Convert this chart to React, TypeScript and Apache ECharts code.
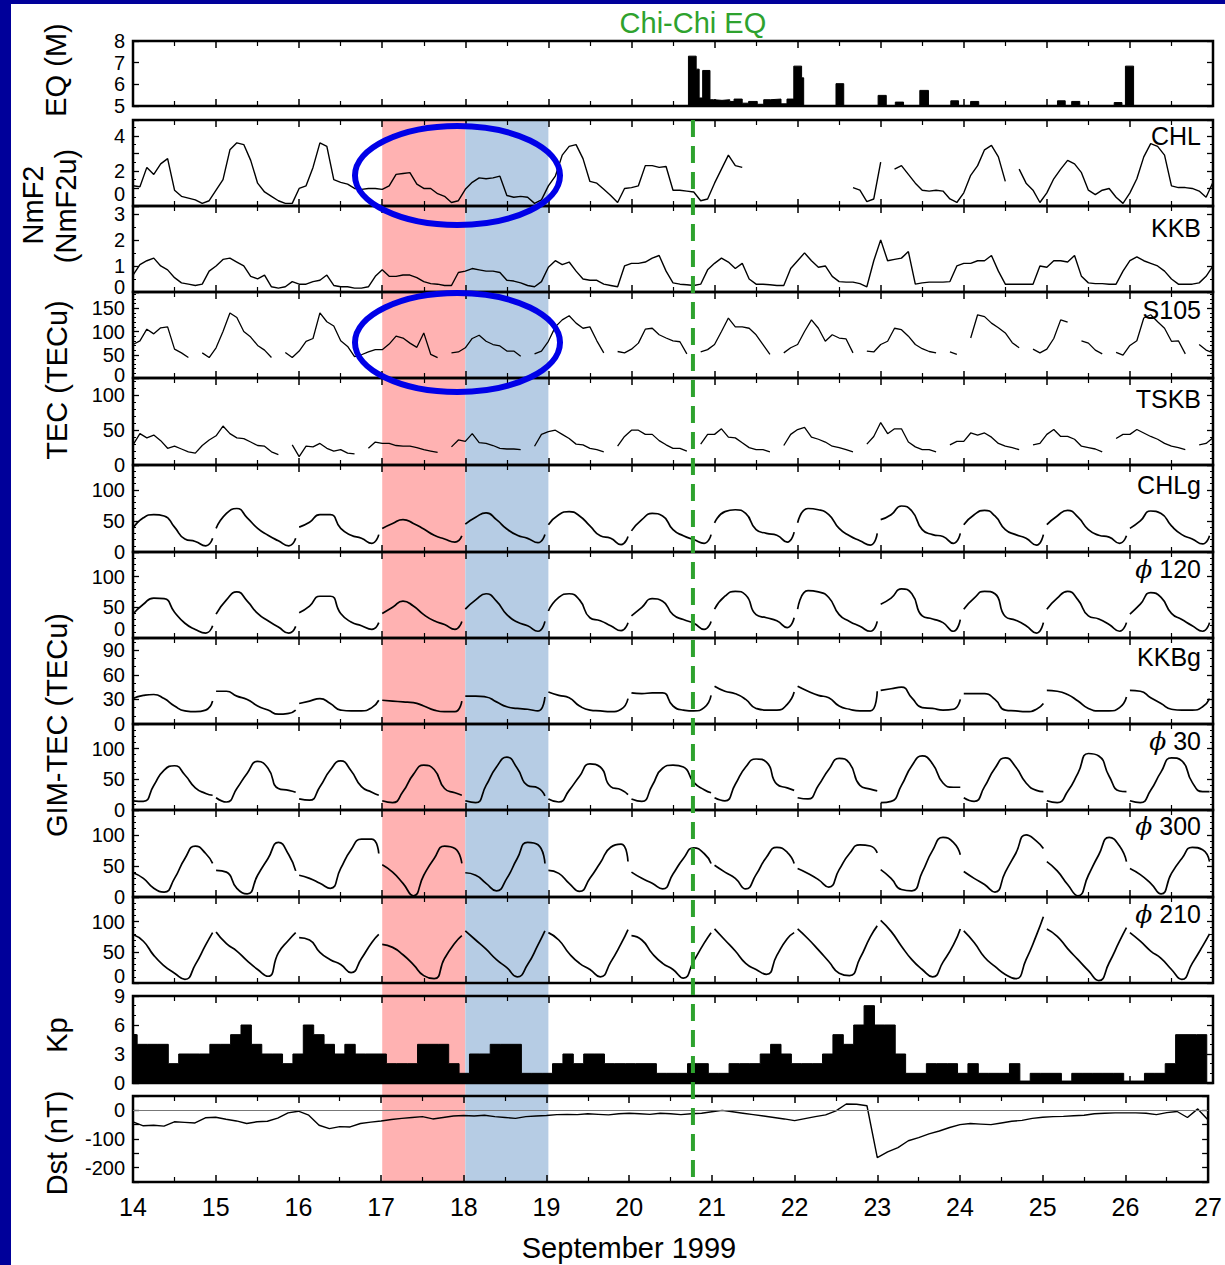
import React, { useEffect, useRef } from "react";
import * as echarts from "echarts";

const FONT = "'Liberation Sans', Arial, Helvetica, sans-serif";

// ---------------- DATA ----------------
const DAY_TICKS = [14, 15, 16, 17, 18, 19, 20, 21, 22, 23, 24, 25, 26, 27];
const GIM_HOURS = [0, 3, 6, 9, 12, 15, 18, 21, 23];

// Earthquakes: bar start (day), bar end (day), magnitude
const EQ_START = [20.686, 20.779, 20.815, 20.857, 20.945, 20.986, 21.09, 21.183, 21.235, 21.333, 21.41, 21.514, 21.592, 21.675, 21.8, 21.872, 21.954, 22.048, 22.462, 22.969, 23.176, 23.471, 23.844, 24.082, 25.128, 25.299, 25.811, 25.946];
const EQ_END = [20.779, 20.815, 20.857, 20.945, 20.986, 21.09, 21.183, 21.235, 21.333, 21.41, 21.514, 21.592, 21.675, 21.8, 21.872, 21.954, 22.048, 22.073, 22.555, 23.067, 23.275, 23.575, 23.937, 24.18, 25.221, 25.397, 25.904, 26.044];
const EQ_MAG = [7.3, 6.7, 5.37, 6.64, 5.29, 5.26, 5.29, 5.21, 5.32, 5.13, 5.21, 5.08, 5.29, 5.32, 5.1, 5.32, 6.84, 6.3, 6.03, 5.49, 5.18, 5.72, 5.24, 5.21, 5.24, 5.21, 5.16, 6.84];
const EQ_TIME = 20.74;

// NmF2 at CHL, 2-hourly (12 per day, 14..26) + value at 27
const CHL_NMF2 = [
  [1.15, 1.1, 2.2, 1.8, 2.4, 2.7, 0.9, 0.55, 0.45, 0.35, 0.15, 0.3],
  [0.9, 1.5, 3.2, 3.6, 3.5, 2.6, 1.3, 0.8, 0.55, 0.3, 0.15, 0.15],
  [1.0, 1.15, 2.2, 3.6, 3.4, 1.5, 1.35, 1.25, 1.0, 0.95, 1.0, 1.0],
  [0.95, 1.15, 1.8, 1.85, 1.9, 1.25, 1.0, 1.0, 0.7, 0.55, 0.2, 0.3],
  [0.95, 1.35, 1.6, 1.55, 1.6, 1.7, 0.6, 0.5, 0.55, 0.5, 0.15, 0.35],
  [1.15, 1.7, 2.9, 3.4, 3.5, 2.7, 1.4, 1.3, 0.95, 0.6, 0.2, 1.0],
  [1.05, 1.15, 2.3, 2.3, 2.2, 2.25, 0.9, 0.9, 0.85, 0.8, 0.3, 0.4],
  [1.3, 2.1, 2.9, 2.3, 2.2, null, null, null, null, null, null, null],
  [null, null, null, null, null, null, null, null, 1.05, 0.9, 0.25, 0.4],
  [2.5, null, 2.1, 2.3, 1.8, 1.3, 0.9, 0.85, 0.9, 0.85, 0.4, 0.2],
  [0.75, 1.75, 2.3, 3.2, 3.45, 2.8, 1.4, null, 2.1, 1.3, 0.9, 0.2],
  [0.75, 1.55, 2.1, 2.6, 2.4, 1.9, 0.9, 0.65, 0.9, 1.0, 0.5, 0.15],
  [0.75, 1.55, 2.8, 3.55, 3.4, 2.9, 1.15, 1.05, 1.05, 1.0, 0.85, 0.5],
];
const CHL_NMF2_END = 1.35;

const KKB_NMF2 = [
  [0.65, 1.05, 1.2, 1.3, 1.0, 0.85, 0.55, 0.35, 0.3, 0.25, 0.3, 0.8],
  [1.0, 1.25, 1.3, 1.15, 1.0, 0.6, 0.5, 0.65, 0.2, 0.15, 0.2, 0.4],
  [0.3, 0.3, 0.4, 0.45, 0.65, 0.25, 0.2, 0.2, 0.15, 0.15, 0.2, 0.6],
  [0.85, 0.6, 0.6, 0.65, 0.65, 0.55, 0.4, 0.32, 0.3, 0.25, 0.25, 0.75],
  [0.8, 0.9, 0.85, 0.8, 0.8, 0.75, 0.45, 0.42, 0.35, 0.25, 0.2, 0.4],
  [0.95, 1.2, 1.05, 1.15, 0.8, 0.5, 0.45, 0.45, 0.3, 0.25, 0.2, 1.0],
  [1.1, 1.1, 1.15, 1.3, 1.4, 0.8, 0.35, 0.3, 0.28, 0.25, 0.3, 0.85],
  [1.1, 1.3, 1.15, 0.9, 1.1, 0.5, 0.3, 0.3, 0.28, 0.25, 0.25, 0.9],
  [1.2, 1.5, 1.2, 0.95, 1.0, 0.6, 0.4, 0.38, 0.38, 0.32, 0.2, 1.2],
  [2.0, 1.2, 1.25, 1.3, 1.55, 0.3, 0.35, 0.38, 0.38, 0.38, 0.4, 1.0],
  [1.1, 1.1, 1.2, 1.2, 1.4, 0.8, 0.3, 0.3, 0.3, 0.3, 0.3, 1.0],
  [0.95, 1.2, 1.2, 1.15, 1.4, 0.6, 0.35, 0.32, 0.32, 0.3, 0.3, 0.8],
  [1.2, 1.35, 1.2, 1.1, 1.0, 0.8, 0.5, 0.3, 0.3, 0.3, 0.35, 0.6],
];
const KKB_NMF2_END = 1.0;

// GPS TEC, 2-hourly
const S105_TEC = [
  [72, 80, 105, 95, 108, 110, 62, 54, 44, null, 54, 44],
  [65, 100, 140, 130, 100, 88, 70, 60, 44, null, 55, 44],
  [58, 79, 85, 140, 121, 112, 80, 68, 46, 50, 56, 61],
  [61, 73, 90, 86, 75, 66, 97, 51, 44, null, 54, 56],
  [65, 85, 92, 79, 72, 69, 58, 58, 47, null, 52, 58],
  [79, 110, 125, 134, 118, 107, 110, 80, 54, null, 57, 54],
  [62, 75, 105, 107, 93, 86, 80, 78, 52, null, 56, 61],
  [72, 100, 129, 110, 110, 107, 93, 72, 51, null, 54, 65],
  [72, 100, 125, 107, 79, 93, 86, 84, 54, null, 58, 56],
  [72, 79, 107, 104, 90, 72, 63, 57, 54, null, 56, 51],
  [null, 86, 136, 132, 118, 108, 97, 76, 65, null, 62, 54],
  [62, 85, 125, 120, null, 80, 75, 60, 52, null, 55, 49],
  [70, 80, 129, 136, 121, 107, 79, 80, 52, null, 72, 60],
];
const S105_TEC_END = 54;

const TSKB_TEC = [
  [29, 45, 39, 43, 35, 24, 27, 23, 19, 17, 28, 36],
  [42, 56, 45, 39, 38, 33, 28, 27, 19, 15, null, 29],
  [12, 27, 26, 31, 24, 20, 22, 17, 16, null, 24, 33],
  [31, 31, 28, 27, 27, 25, 22, 20, 18, null, 26, 36],
  [34, 45, 32, 31, 28, 24, 23, 23, 22, null, 27, 44],
  [48, 50, 44, 38, 30, 29, 24, 22, 19, null, 27, 41],
  [50, 50, 44, 44, 35, 29, 24, 24, 20, null, 30, 44],
  [44, 52, 40, 39, 32, 25, 22, 22, 19, null, 28, 44],
  [51, 54, 40, 37, 33, 27, 25, 22, 19, null, 30, 41],
  [61, 45, 52, 52, 33, 26, 22, 22, 19, null, 29, 34],
  [34, 46, 43, 46, 40, 31, 27, 25, 22, null, 29, 31],
  [44, 51, 41, 41, 37, 27, 25, 23, 19, null, 38, 44],
  [44, 51, 46, 41, 37, 31, 27, 25, 22, null, 29, 31],
];
const TSKB_TEC_END = 39;

// GIM-TEC, per day at GIM_HOURS
const CHLG_TEC = [
  [38, 55, 60, 58, 40, 21, 17, 10, 22],
  [38, 62, 70, 55, 38, 27, 18, 10, 22],
  [40, 48, 60, 60, 38, 27, 22, 14, 28],
  [38, 46, 52, 46, 37, 27, 21, 16, 26],
  [45, 56, 63, 52, 37, 27, 22, 15, 28],
  [44, 60, 65, 58, 42, 26, 22, 12, 25],
  [34, 52, 62, 58, 36, 26, 20, 14, 28],
  [47, 65, 68, 62, 36, 30, 27, 16, 32],
  [47, 70, 68, 60, 38, 26, 18, 11, 30],
  [52, 60, 74, 66, 36, 28, 25, 14, 30],
  [44, 60, 67, 58, 36, 28, 22, 11, 28],
  [44, 58, 67, 56, 36, 27, 24, 14, 26],
  [38, 50, 66, 62, 42, 28, 21, 13, 26],
];
const P120_TEC = [
  [39, 55, 65, 64, 42, 24, 14, 8, 20],
  [39, 62, 75, 60, 40, 28, 18, 8, 19],
  [41, 52, 68, 68, 40, 26, 20, 14, 25],
  [40, 50, 60, 52, 38, 28, 22, 14, 27],
  [47, 62, 72, 60, 38, 26, 20, 11, 27],
  [44, 66, 72, 62, 33, 28, 20, 12, 25],
  [36, 50, 64, 60, 38, 30, 24, 14, 27],
  [47, 68, 76, 70, 38, 33, 28, 17, 33],
  [47, 77, 75, 66, 38, 27, 19, 11, 27],
  [55, 65, 80, 72, 36, 31, 25, 11, 30],
  [47, 65, 76, 72, 35, 29, 20, 8, 25],
  [47, 65, 76, 62, 36, 31, 22, 11, 25],
  [39, 55, 74, 66, 40, 30, 20, 11, 25],
];
const KKBG_TEC = [
  [31, 35, 36, 31, 22, 16, 15, 17, 28],
  [40, 40, 34, 30, 22, 17, 12, 13, 17],
  [25, 28, 31, 25, 17, 16, 16, 20, 29],
  [29, 28, 27, 26, 22, 17, 15, 15, 28],
  [34, 34, 33, 27, 21, 19, 18, 16, 33],
  [39, 35, 32, 22, 17, 16, 15, 18, 31],
  [38, 37, 38, 38, 22, 17, 16, 20, 35],
  [46, 40, 37, 30, 19, 17, 17, 24, 39],
  [46, 40, 35, 32, 22, 18, 16, 16, 40],
  [41, 43, 45, 32, 20, 19, 17, 18, 30],
  [37, 37, 37, 30, 17, 16, 15, 18, 25],
  [41, 40, 36, 28, 19, 16, 16, 20, 33],
  [41, 40, 32, 25, 18, 17, 17, 21, 31],
];
const P30_TEC = [
  [15, 14, 40, 65, 72, 57, 36, 27, 24],
  [20, 13, 35, 60, 79, 68, 35, 32, 29],
  [18, 16, 38, 65, 80, 64, 38, 29, 24],
  [15, 12, 30, 58, 73, 66, 35, 28, 24],
  [15, 12, 40, 70, 86, 68, 40, 36, 23],
  [18, 13, 32, 55, 75, 70, 38, 33, 25],
  [18, 14, 40, 68, 73, 70, 45, 33, 28],
  [20, 15, 42, 70, 83, 78, 42, 36, 32],
  [20, 18, 40, 66, 84, 76, 40, 34, 31],
  [12, 14, 40, 72, 88, 75, 44, 37, 37],
  [20, 14, 38, 68, 85, 70, 44, 32, 30],
  [15, 12, 30, 60, 92, 88, 55, 31, 30],
  [15, 12, 32, 62, 85, 80, 45, 30, 30],
];
const P300_TEC = [
  [39, 30, 14, 8, 30, 62, 82, 70, 54],
  [43, 40, 14, 5, 35, 62, 88, 68, 42],
  [35, 30, 22, 14, 46, 76, 93, 93, 70],
  [52, 40, 22, 2, 35, 62, 82, 78, 54],
  [39, 35, 22, 10, 30, 62, 88, 84, 54],
  [43, 38, 22, 9, 30, 55, 80, 85, 57],
  [40, 30, 22, 13, 37, 62, 79, 70, 54],
  [51, 40, 30, 13, 36, 64, 80, 72, 54],
  [46, 38, 28, 16, 44, 70, 84, 82, 71],
  [44, 30, 12, 10, 40, 75, 96, 88, 68],
  [41, 30, 20, 8, 40, 70, 100, 90, 78],
  [57, 42, 20, 2, 35, 68, 96, 82, 57],
  [46, 36, 22, 5, 38, 62, 80, 76, 57],
];
const P210_TEC = [
  [79, 68, 45, 28, 16, 6, 30, 62, 82],
  [83, 64, 52, 36, 22, 11, 49, 70, 82],
  [74, 70, 50, 38, 30, 17, 40, 66, 79],
  [63, 58, 46, 30, 12, 7, 40, 65, 77],
  [85, 70, 55, 38, 25, 10, 30, 62, 85],
  [82, 70, 48, 32, 22, 10, 34, 64, 87],
  [77, 70, 48, 32, 22, 8, 36, 65, 82],
  [88, 70, 52, 32, 22, 14, 45, 72, 82],
  [88, 72, 54, 35, 16, 12, 40, 75, 93],
  [102, 84, 60, 38, 22, 10, 34, 62, 88],
  [85, 66, 42, 27, 14, 7, 38, 78, 108],
  [88, 76, 56, 38, 20, 4, 33, 68, 90],
  [82, 68, 52, 40, 22, 6, 32, 60, 80],
];

// Kp, 3-hourly bars (8 per day), plus last bar of Sep 13
const KP_PREV = 5;
const KP_SHIFT = 0.05;
const KP = [
  [4, 4, 4, 2, 3, 3, 3, 4],
  [4, 5, 6, 4, 3, 3, 2, 3],
  [6, 5, 4, 3, 4, 3, 3, 3],
  [2, 2, 2, 4, 4, 4, 2, 1],
  [3, 3, 4, 4, 4, 1, 1, 1],
  [2, 3, 2, 3, 3, 2, 2, 2],
  [2, 2, 1, 1, 1, 2, 2, 1],
  [1, 2, 2, 2, 3, 4, 3, 2],
  [2, 2, 3, 5, 4, 6, 8, 6],
  [6, 3, 1, 1, 2, 2, 2, 1],
  [2, 1, 1, 1, 2, 0.2, 1, 1],
  [1, 0.2, 1, 1, 1, 1, 1, 0.2],
  [0.2, 1, 1, 2, 5, 5, 5, 0],
];

// Dst, 3-hourly + value at 27
const DST = [
  [-40, -54, -52, -55, -40, -42, -44, -26],
  [-24, -31, -37, -46, -40, -38, -27, -9],
  [-3, -17, -52, -64, -57, -58, -46, -41],
  [-37, -32, -28, -25, -22, -30, -25, -20],
  [-18, -20, -17, -22, -25, -28, -22, -20],
  [-18, -15, -14, -15, -12, -14, -16, -12],
  [-10, -12, -14, -10, -12, -15, -12, -10],
  [-5, 0, -5, -10, -15, -20, -25, -30],
  [-36, -29, -22, -16, -2, 22, 21, 16],
  [-165, -145, -130, -106, -95, -82, -72, -60],
  [-50, -46, -48, -50, -44, -38, -35, -28],
  [-24, -22, -21, -19, -17, -12, -10, -9],
  [-9, -9, -10, -15, -8, -4, -25, 5],
];
const DST_END = -34;

// ---------------- LAYOUT / STYLE ----------------
const PLOT_LEFT = 133;
const PLOT_WIDTH = 1080;
const Y_LABEL_FONT = 20;
const Y_LABEL_MARGIN = 8;
const PANELS = [
  { id: "eq", top: 41, bottom: 106, label: "", phi: false },
  { id: "chl", top: 120, bottom: 206, label: "CHL", phi: false },
  { id: "kkb", top: 206, bottom: 292, label: "KKB", phi: false },
  { id: "s105", top: 292, bottom: 378, label: "S105", phi: false },
  { id: "tskb", top: 378, bottom: 465, label: "TSKB", phi: false },
  { id: "chlg", top: 465, bottom: 552, label: "CHLg", phi: false },
  { id: "p120", top: 552, bottom: 638, label: "120", phi: true },
  { id: "kkbg", top: 638, bottom: 724, label: "KKBg", phi: false },
  { id: "p30", top: 724, bottom: 810, label: "30", phi: true },
  { id: "p300", top: 810, bottom: 897, label: "300", phi: true },
  { id: "p210", top: 897, bottom: 983, label: "210", phi: true },
  { id: "kp", top: 996, bottom: 1083, label: "", phi: false },
  { id: "dst", top: 1096, bottom: 1182, label: "", phi: false },
];
const LABEL_DY: Record<string, number> = { chl: 16, kkb: 22, s105: 18, tskb: 21, chlg: 20, p120: 17, kkbg: 19, p30: 17, p300: 16, p210: 17 };

// raise: the "0" label is lifted by that many pixels (crowded panel joins)
const Y_SPECS: Record<string, any> = {
  eq: { min: 5, max: 8, interval: 1, step: 1, minor: 0 },
  chl: { min: 0, max: 4.9, interval: 1, step: 2, minor: 2, raise: 12 },
  kkb: { min: 0, max: 3.3, interval: 1, step: 1, minor: 2, raise: 5 },
  s105: { min: 0, max: 185, interval: 50, step: 50, minor: 5, raise: 3 },
  tskb: { min: 0, max: 125, interval: 50, step: 50, minor: 5 },
  chlg: { min: 0, max: 140, interval: 50, step: 50, minor: 5 },
  p120: { min: 0, max: 140, interval: 50, step: 50, minor: 5, raise: 9 },
  kkbg: { min: 0, max: 105, interval: 30, step: 30, minor: 3 },
  p30: { min: 0, max: 140, interval: 50, step: 50, minor: 5 },
  p300: { min: 0, max: 140, interval: 50, step: 50, minor: 5 },
  p210: { min: 0, max: 140, interval: 50, step: 50, minor: 5, raise: 7 },
  kp: { min: 0, max: 9, interval: 3, step: 3, minor: 3 },
  dst: { min: -250, max: 50, interval: 50, step: 100, minor: 0 },
};

const SHADES = [
  { from: 17, to: 18, color: "#FFB2B2" },
  { from: 18, to: 19, color: "#B6CCE4" },
];
const SHADE_TOP = 120;
const SHADE_BOTTOM = 1182;
const ELLIPSES = [
  { from: 16.672, to: 19.14, cy: 175.5, ry: 49.5 },
  { from: 16.672, to: 19.14, cy: 342.5, ry: 49.5 },
];
const GREEN = "#2EA22E";
const NAVY = "#00009A";
const ELLIPSE_BLUE = "#0000E8";

const Y_TITLES = [
  { text: "EQ (M)", x: 56, y: 70 },
  { text: "NmF2", x: 33, y: 205 },
  { text: "(NmF2u)", x: 66, y: 206 },
  { text: "TEC (TECu)", x: 57, y: 380 },
  { text: "GIM-TEC (TECu)", x: 57, y: 725 },
  { text: "Kp", x: 57, y: 1035 },
  { text: "Dst (nT)", x: 57, y: 1143 },
];

// ---------------- BUILDERS ----------------
function twoHourly(rows: (number | null)[][], end: number) {
  const flat = [...rows.flat(), end];
  return flat.map((v, i) => [DAY_TICKS[0] + i / 12, v]);
}
function threeHourly(rows: number[][], end: number) {
  const flat = [...rows.flat(), end];
  return flat.map((v, i) => [DAY_TICKS[0] + i / 8, v]);
}
function gimData(rows: number[][]) {
  const out: any[] = [];
  rows.forEach((row, d) => {
    row.forEach((v, j) => out.push([DAY_TICKS[0] + d + GIM_HOURS[j] / 24, v]));
    out.push([DAY_TICKS[0] + d + 0.985, null]);
  });
  return out;
}
function kpData() {
  const flat = KP.flat();
  const out: any[] = [[DAY_TICKS[0] - 1 / 8 + KP_SHIFT, KP_PREV]];
  flat.forEach((v, i) => out.push([DAY_TICKS[0] + i / 8 + KP_SHIFT, v]));
  out.push([DAY_TICKS[0] + flat.length / 8 + KP_SHIFT, flat[flat.length - 1]]);
  return out;
}
function eqData() {
  const base = Y_SPECS.eq.min;
  const out: any[] = [[DAY_TICKS[0], base]];
  EQ_START.forEach((s, i) => {
    out.push([s, EQ_MAG[i]]);
    const next = i + 1 < EQ_START.length ? EQ_START[i + 1] : DAY_TICKS[DAY_TICKS.length - 1];
    if (next > EQ_END[i] + 1e-6) out.push([EQ_END[i], base]);
  });
  out.push([DAY_TICKS[DAY_TICKS.length - 1], base]);
  return out;
}

function buildOption() {
  const n = PANELS.length;
  const grid = PANELS.map((p) => ({
    left: PLOT_LEFT, width: PLOT_WIDTH, top: p.top, height: p.bottom - p.top,
    show: true, borderColor: "#000", borderWidth: 2.5, backgroundColor: "transparent",
  }));
  const xAxis: any[] = [];
  const yAxis: any[] = [];
  PANELS.forEach((p, i) => {
    ["bottom", "top"].forEach((pos) => {
      xAxis.push({
        type: "value", gridIndex: i, position: pos,
        min: DAY_TICKS[0], max: DAY_TICKS[DAY_TICKS.length - 1], interval: 1,
        axisLine: { show: false, onZero: false },
        splitLine: { show: false },
        axisTick: { show: true, inside: true, length: 7, lineStyle: { color: "#000", width: 1.5 } },
        minorTick: { show: true, splitNumber: 2, length: 5, lineStyle: { color: "#000", width: 1.2 } },
        axisLabel: {
          show: pos === "bottom" && i === n - 1, fontSize: 25, color: "#000", margin: 12, fontFamily: FONT,
          formatter: (v: number) => String(v),
        },
      });
    });
    const s = Y_SPECS[p.id];
    ["left", "right"].forEach((pos) => {
      yAxis.push({
        type: "value", gridIndex: i, position: pos, min: s.min, max: s.max, interval: s.interval,
        axisLine: { show: false, onZero: false },
        splitLine: { show: false },
        axisTick: { show: true, inside: true, length: 6, lineStyle: { color: "#000", width: 1.3 } },
        minorTick: { show: s.minor > 0, splitNumber: s.minor || 2, length: 3, lineStyle: { color: "#000", width: 1 } },
        axisLabel: {
          show: pos === "left", fontSize: Y_LABEL_FONT, color: "#000", margin: Y_LABEL_MARGIN, fontFamily: FONT,
          formatter: (v: number) => {
            if (s.raise && Math.abs(v - s.min) < 1e-9) return "";
            const k = v / s.step;
            return Math.abs(k - Math.round(k)) < 1e-6 ? String(Math.round(v * 100) / 100) : "";
          },
        },
      });
    });
  });

  const idx = (id: string) => PANELS.findIndex((p) => p.id === id);
  const line = (id: string, data: any[], width: number, smooth: number | boolean) => ({
    type: "line", xAxisIndex: 2 * idx(id), yAxisIndex: 2 * idx(id), data,
    showSymbol: false, symbol: "none", smooth, connectNulls: false, silent: true,
    lineStyle: { color: "#000", width }, z: 3,
  });
  const stepArea = (id: string, data: any[]) => ({
    type: "line", xAxisIndex: 2 * idx(id), yAxisIndex: 2 * idx(id), data,
    step: "end", showSymbol: false, symbol: "none", silent: true,
    lineStyle: { color: "#000", width: 1 },
    areaStyle: { color: "#000", opacity: 1, origin: "start" }, z: 3,
  });

  const dst: any = line("dst", threeHourly(DST, DST_END), 1.4, false);
  dst.markLine = {
    silent: true, symbol: "none", label: { show: false },
    lineStyle: { color: "#777", width: 1, type: "solid" },
    data: [{ yAxis: 0 }],
  };

  const series = [
    stepArea("eq", eqData()),
    line("chl", twoHourly(CHL_NMF2, CHL_NMF2_END), 1.4, false),
    line("kkb", twoHourly(KKB_NMF2, KKB_NMF2_END), 1.4, false),
    line("s105", twoHourly(S105_TEC, S105_TEC_END), 1.3, false),
    line("tskb", twoHourly(TSKB_TEC, TSKB_TEC_END), 1.3, false),
    line("chlg", gimData(CHLG_TEC), 1.7, 0.55),
    line("p120", gimData(P120_TEC), 1.7, 0.55),
    line("kkbg", gimData(KKBG_TEC), 1.7, 0.55),
    line("p30", gimData(P30_TEC), 1.7, 0.55),
    line("p300", gimData(P300_TEC), 1.7, 0.55),
    line("p210", gimData(P210_TEC), 1.7, 0.55),
    stepArea("kp", kpData()),
    dst,
  ];

  return {
    animation: false,
    backgroundColor: "#ffffff",
    textStyle: { fontFamily: FONT },
    grid, xAxis, yAxis, series,
  };
}

function buildGraphic(px: (t: number) => number, py: (axisIndex: number, v: number) => number) {
  const els: any[] = [];
  els.push({ type: "rect", shape: { x: 0, y: 0, width: 11, height: 1265 }, style: { fill: NAVY }, z: 50, silent: true });
  els.push({ type: "rect", shape: { x: 0, y: 0, width: 1225, height: 4 }, style: { fill: NAVY }, z: 50, silent: true });
  SHADES.forEach((s) => {
    const x0 = px(s.from);
    const x1 = px(s.to);
    els.push({
      type: "rect", shape: { x: x0, y: SHADE_TOP, width: x1 - x0, height: SHADE_BOTTOM - SHADE_TOP },
      style: { fill: s.color }, z: -10, silent: true,
    });
  });
  const xe = px(EQ_TIME);
  els.push({
    type: "line", shape: { x1: xe, y1: SHADE_TOP, x2: xe, y2: SHADE_BOTTOM },
    style: { stroke: GREEN, lineWidth: 4, lineDash: [17, 9] }, z: 20, silent: true,
  });
  els.push({
    type: "text", x: xe, y: 23,
    style: { text: "Chi-Chi EQ", fontSize: 29, fontFamily: FONT, fill: GREEN, align: "center", verticalAlign: "middle" },
    z: 20, silent: true,
  });
  ELLIPSES.forEach((e) => {
    const x0 = px(e.from);
    const x1 = px(e.to);
    els.push({
      type: "ellipse", shape: { cx: (x0 + x1) / 2, cy: e.cy, rx: (x1 - x0) / 2, ry: e.ry },
      style: { fill: "none", stroke: ELLIPSE_BLUE, lineWidth: 6 }, z: 30, silent: true,
    });
  });
  Y_TITLES.forEach((t) => {
    els.push({
      type: "text", x: t.x, y: t.y, rotation: Math.PI / 2,
      style: { text: t.text, fontSize: 29, fontFamily: FONT, fill: "#000", align: "center", verticalAlign: "middle" },
      z: 20, silent: true,
    });
  });
  // lifted "0" tick labels at crowded panel joins
  PANELS.forEach((p, i) => {
    const s = Y_SPECS[p.id];
    if (!s.raise) return;
    els.push({
      type: "text", x: PLOT_LEFT - Y_LABEL_MARGIN, y: py(2 * i, s.min) - s.raise,
      style: { text: String(s.min), fontSize: Y_LABEL_FONT, fontFamily: FONT, fill: "#000", align: "right", verticalAlign: "middle" },
      z: 20, silent: true,
    });
  });
  PANELS.forEach((p) => {
    if (!p.label) return;
    const style: any = {
      text: p.phi ? "{i|ϕ} " + p.label : p.label,
      fontSize: 25, fontFamily: FONT, fill: "#000", align: "right", verticalAlign: "middle",
    };
    if (p.phi) {
      style.rich = { i: { fontStyle: "italic", fontSize: 25, fontFamily: "'DejaVu Serif', serif", fill: "#000" } };
    }
    els.push({ type: "text", x: 1201, y: p.top + LABEL_DY[p.id], style, z: 20, silent: true });
  });
  els.push({
    type: "text", x: 629, y: 1248,
    style: { text: "September 1999", fontSize: 29, fontFamily: FONT, fill: "#000", align: "center", verticalAlign: "middle" },
    z: 20, silent: true,
  });
  return els;
}

export default function App() {
  const ref = useRef<HTMLDivElement>(null);
  useEffect(() => {
    const el = ref.current;
    if (!el) return;
    const chart = echarts.init(el, null, { renderer: "svg" });
    chart.setOption(buildOption() as any);
    const px = (t: number) => chart.convertToPixel({ xAxisIndex: 0 }, t) as number;
    const py = (axisIndex: number, v: number) => chart.convertToPixel({ yAxisIndex: axisIndex }, v) as number;
    chart.setOption({ graphic: buildGraphic(px, py) } as any);
    return () => chart.dispose();
  }, []);
  return (
    <div
      ref={ref}
      style={{ position: "absolute", left: 0, top: 0, width: 1225, height: 1265, background: "#fff" }}
    />
  );
}
